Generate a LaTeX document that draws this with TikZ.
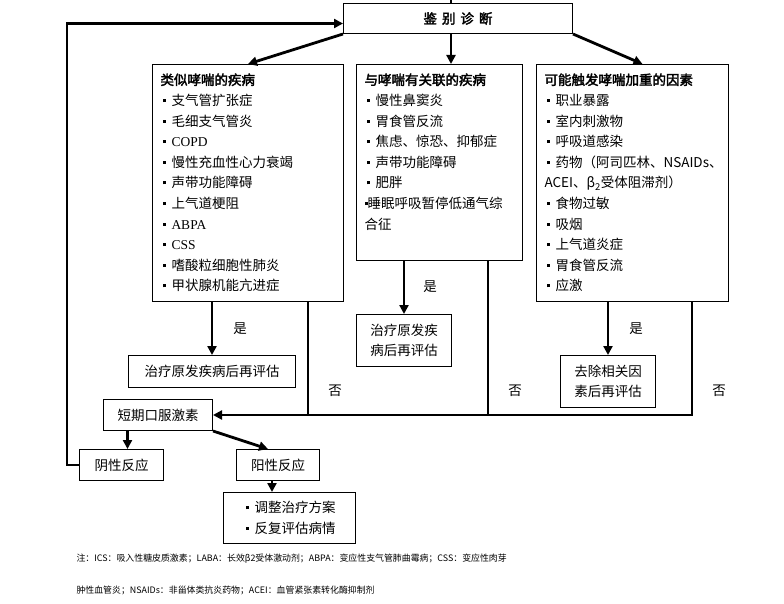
\documentclass[tikz,border=0pt]{standalone}
\usepackage{fontspec}
\setmainfont{Liberation Serif}
\newfontfamily\cjk[AutoFakeBold=2.5]{Noto Sans CJK SC}
\usetikzlibrary{arrows.meta}
\tikzstyle{box}=[draw,line width=1pt,inner xsep=8pt,inner ysep=9pt,align=left,anchor=north west,
  font=\cjk\fontsize{13.5pt}{20.6pt}\selectfont]
\tikzstyle{small}=[draw,line width=1pt,inner sep=2pt,align=center,anchor=north west,
  font=\cjk\fontsize{13.5pt}{20.6pt}\selectfont]
\tikzstyle{edge}=[draw,line width=2.8pt,-{Triangle[length=9pt,width=9pt]}]
\tikzstyle{wire}=[draw,line width=2.8pt]
\tikzstyle{label}=[font=\cjk\fontsize{13.5pt}{16pt}\selectfont]
\tikzstyle{note}=[anchor=west,font=\cjk\fontsize{8.9pt}{12pt}\selectfont]
\newcommand\itm{\hspace*{2pt}\rule[3.5pt]{3pt}{3pt}\hspace{6pt}}

\begin{document}
\begin{tikzpicture}[x=1pt,y=-1pt]
\useasboundingbox (0,0) rectangle (784,604);

% the boxes
\node[small,minimum width=229pt,minimum height=30pt] (diag) at (343,3)
  {\textbf{鉴\hspace{5pt}别\hspace{5pt}诊\hspace{5pt}断}};
\node[box,text width=175pt] (sim) at (152,64) {\textbf{类似哮喘的疾病}\\
  \itm 支气管扩张症\\ \itm 毛细支气管炎\\ \itm {\rmfamily COPD}\\
  \itm 慢性充血性心力衰竭\\ \itm 声带功能障碍\\ \itm 上气道梗阻\\
  \itm {\rmfamily ABPA}\\ \itm {\rmfamily CSS}\\ \itm 嗜酸粒细胞性肺炎\\
  \itm 甲状腺机能亢进症};
\node[box,text width=150pt] (rel) at (356,64) {\textbf{与哮喘有关联的疾病}\\
  \itm 慢性鼻窦炎\\ \itm 胃食管反流\\ \itm 焦虑、惊恐、抑郁症\\
  \itm 声带功能障碍\\ \itm 肥胖\\
  \rule[3.5pt]{3pt}{3pt}睡眠呼吸暂停低通气综\\ 合征\rule[-22pt]{0pt}{0pt}};
\node[box,text width=176pt] (fac) at (536,64) {\textbf{可能触发哮喘加重的因素}\\
  \itm 职业暴露\\ \itm 室内刺激物\\ \itm 呼吸道感染\\
  \mbox{\itm 药物（阿司匹林、NSAIDs、}\\ ACEI、β\textsubscript{2}受体阻滞剂）\\
  \itm 食物过敏\\ \itm 吸烟\\ \itm 上气道炎症\\ \itm 胃食管反流\\ \itm 应激};

\node[small,minimum width=167pt,minimum height=32pt] (treat1) at (128,355) {治疗原发疾病后再评估};
\node[small,minimum width=95pt,minimum height=52pt] (treat2) at (356,314) {治疗原发疾\\病后再评估};
\node[small,minimum width=95pt,minimum height=52pt] (remove) at (560,355) {去除相关因\\素后再评估};
\node[small,minimum width=109pt,minimum height=31pt] (oral) at (103,399) {短期口服激素};
\node[small,minimum width=84pt,minimum height=31pt] (neg) at (79,449) {阴性反应};
\node[small,minimum width=83pt,minimum height=31pt] (pos) at (236,449) {阳性反应};
\node[small,minimum width=132pt,minimum height=51pt,align=left] (adj) at (223,492)
  {\itm 调整治疗方案\\ \itm 反复评估病情};

% yes / no
\foreach \pos/\name/\txt in {{(240,329)/yes1/是}, {(430,287)/yes2/是}, {(636,329)/yes3/是},
                            {(335,391)/no1/否}, {(515,391)/no2/否}, {(719,391)/no3/否}}
  \node[label] (\name) at \pos {\txt};

% connectors
\path[wire] ([xshift=-7pt]diag.north) -- ++(0,-4);
\path[edge] (diag.south west) -- (sim.north);
\path[edge] ([xshift=-7pt]diag.south) -- ([xshift=-7pt]diag.south |- rel.north);
\path[edge] (diag.south east) -- ([xshift=10pt]fac.north);

\foreach \src/\dest in {sim/treat1, rel/treat2, fac/remove}
  \path[edge] (\dest.north |- \src.south) -- (\dest.north);

\path[wire] ([xshift=-36pt]sim.south east) -- ([xshift=-36pt]sim.south east |- oral.east);
\path[wire] ([xshift=-35pt]rel.south east) -- ([xshift=-35pt]rel.south east |- oral.east);
\path[edge] ([xshift=-37pt]fac.south east) |- (oral.east);

\path[edge] ([xshift=6pt]neg.north |- oral.south) -- ([xshift=6pt]neg.north);
\path[edge] (oral.south east) -- ([xshift=-10pt]pos.north);
\path[edge] ([xshift=-6pt]pos.south) -- ([xshift=-6pt]pos.south |- adj.north);
\path[edge] (neg.west) -- ++(-12,0) |- ([yshift=-5pt]diag.west);

% note
\node[note] (note1) at (73,559) {注：ICS：吸入性糖皮质激素；LABA：长效β2受体激动剂；ABPA：变应性支气管肺曲霉病；CSS：变应性肉芽};
\node[note] (note2) at (73,590) {肿性血管炎；NSAIDs：非甾体类抗炎药物；ACEI：血管紧张素转化酶抑制剂};
\end{tikzpicture}
\end{document}
